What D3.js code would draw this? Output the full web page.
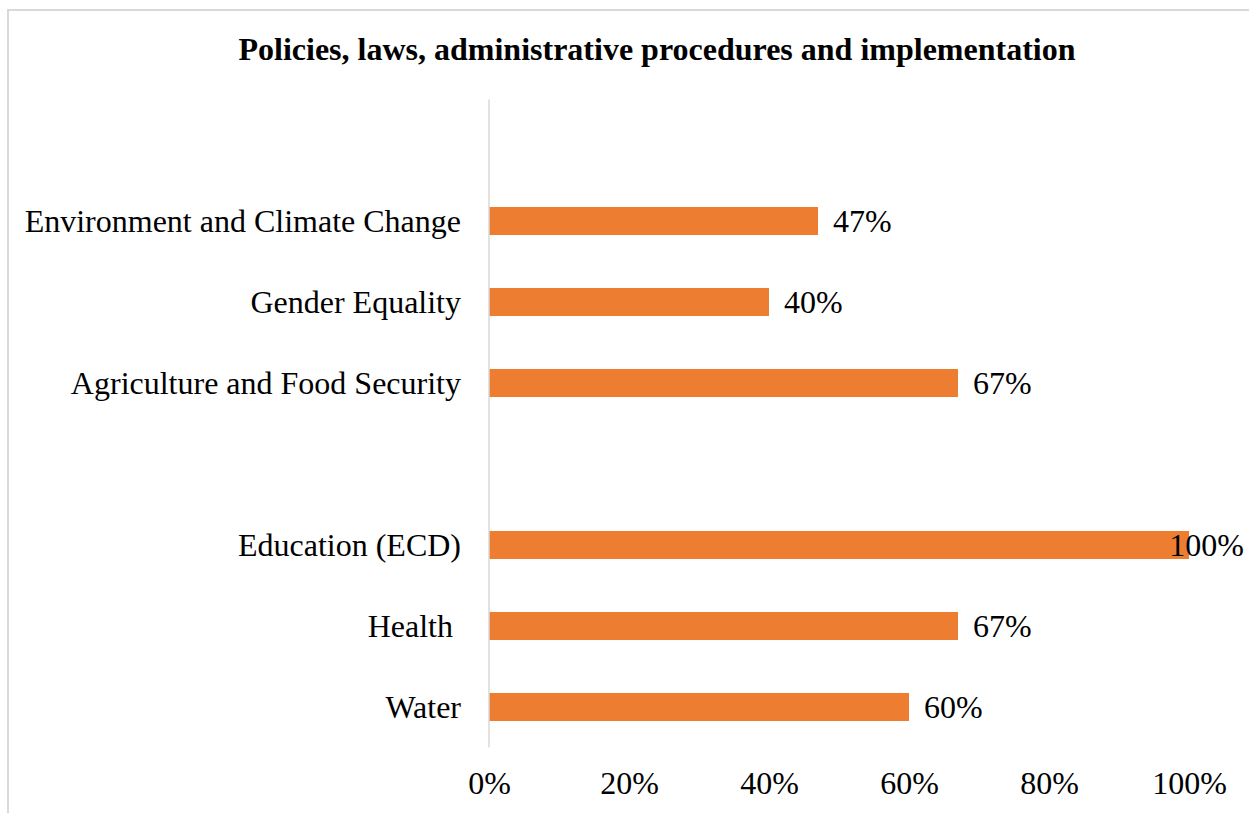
<!DOCTYPE html>
<html><head><meta charset="utf-8">
<script src="https://cdn.jsdelivr.net/npm/d3@7"></script>
<style>
html,body{margin:0;padding:0;background:#fff;}
svg{display:block;}
text{font-family:"Liberation Serif","Times New Roman",serif;fill:#000;}
</style></head>
<body>
<svg id="chart" width="1249" height="813"></svg>
<script>
const title = "Policies, laws, administrative procedures and implementation";
const categories = ["", "Environment and Climate Change", "Gender Equality", "Agriculture and Food Security", " ", "Education (ECD)", "Health ", "Water"];
const values = [null, 0.47, 0.40, 0.67, null, 1.00, 0.67, 0.60];
const tickValues = [0, 0.2, 0.4, 0.6, 0.8, 1.0];

const svg = d3.select("#chart");
const W = 1249, H = 813;
const plotLeft = 489, plotRight = 1189, plotTop = 99.5, plotBottom = 747.5;
const FS = 32;

// frame
svg.append("rect").attr("x", 8).attr("y", 10).attr("width", W + 10).attr("height", H + 10)
  .attr("fill", "none").attr("stroke", "#d9d9d9").attr("stroke-width", 2);

svg.append("text").attr("x", 657).attr("y", 60).attr("text-anchor", "middle")
  .attr("font-weight", "bold").attr("font-size", FS).text(title);

const x = d3.scaleLinear().domain([0, 1]).range([plotLeft, plotRight]);
const y = d3.scaleBand().domain(categories.map((c, i) => i)).range([plotTop, plotBottom]).paddingInner(0.654).paddingOuter(0.327);

const data = categories.map((c, i) => ({c, i, v: values[i]}));

svg.selectAll("rect.bar").data(data.filter(d => d.v != null)).enter().append("rect")
  .attr("class", "bar").attr("x", x(0)).attr("y", d => y(d.i))
  .attr("width", d => x(d.v) - x(0)).attr("height", y.bandwidth()).attr("fill", "#ED7D31");

// axis line
svg.append("line").attr("x1", x(0)).attr("x2", x(0)).attr("y1", plotTop).attr("y2", plotBottom)
  .attr("stroke", "#d9d9d9").attr("stroke-width", 1.5);

// category labels
svg.selectAll("text.cat").data(data).enter().append("text").attr("class", "cat")
  .attr("x", x(0) - 28).attr("y", d => y(d.i) + y.bandwidth() / 2 + 10.5)
  .attr("text-anchor", "end").attr("font-size", FS)
  .style("white-space", "pre").text(d => d.c);

// value labels
const fmt = d3.format(".0%");
svg.selectAll("text.val").data(data.filter(d => d.v != null)).enter().append("text").attr("class", "val")
  .attr("x", d => x(d.v) + 15).attr("y", d => y(d.i) + y.bandwidth() / 2 + 11)
  .attr("font-size", FS).text(d => fmt(d.v))
  .each(function() {
    const w = this.getComputedTextLength();
    const xx = +this.getAttribute("x");
    if (xx + w > 1244) this.setAttribute("x", 1244 - w);
  });

// x tick labels
const axis = d3.axisBottom(x).tickValues(tickValues).tickFormat(fmt).tickSize(0).tickPadding(0);
const g = svg.append("g").attr("transform", `translate(0,${plotBottom})`).call(axis);
g.select(".domain").remove();
g.selectAll("text").attr("font-size", FS).attr("font-family", '"Liberation Serif","Times New Roman",serif')
  .attr("fill", "#000").attr("dy", 0).attr("y", 46.5);
</script>
</body></html>
